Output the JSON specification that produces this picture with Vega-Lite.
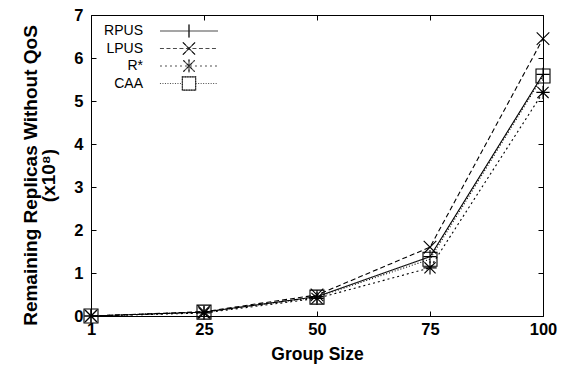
{
  "$schema": "https://vega.github.io/schema/vega-lite/v6.json",
  "width": 452,
  "height": 301,
  "autosize": {"type": "none"},
  "padding": {"left": 91, "top": 15, "right": 18, "bottom": 56},
  "background": "white",
  "config": {
    "view": {"stroke": "black", "strokeWidth": 1},
    "font": "Liberation Sans",
    "axis": {"grid": false, "domain": false, "tickColor": "black", "tickSize": -5, "tickWidth": 1,
             "labelFont": "Liberation Sans", "labelFontWeight": "bold", "labelFontSize": 16.5, "labelColor": "black",
             "titleFont": "Liberation Sans", "titleFontWeight": "bold", "titleColor": "black"}
  },
  "data": {"values": [
    {"g": "1", "s": "RPUS", "v": 0}, {"g": "25", "s": "RPUS", "v": 0.09}, {"g": "50", "s": "RPUS", "v": 0.45}, {"g": "75", "s": "RPUS", "v": 1.38}, {"g": "100", "s": "RPUS", "v": 5.62},
    {"g": "1", "s": "LPUS", "v": 0}, {"g": "25", "s": "LPUS", "v": 0.1}, {"g": "50", "s": "LPUS", "v": 0.49}, {"g": "75", "s": "LPUS", "v": 1.6}, {"g": "100", "s": "LPUS", "v": 6.45},
    {"g": "1", "s": "R*", "v": 0}, {"g": "25", "s": "R*", "v": 0.07}, {"g": "50", "s": "R*", "v": 0.41}, {"g": "75", "s": "R*", "v": 1.12}, {"g": "100", "s": "R*", "v": 5.2},
    {"g": "1", "s": "CAA", "v": 0}, {"g": "25", "s": "CAA", "v": 0.09}, {"g": "50", "s": "CAA", "v": 0.44}, {"g": "75", "s": "CAA", "v": 1.32}, {"g": "100", "s": "CAA", "v": 5.58}
  ]},
  "layer": [
    {
      "mark": {"type": "line", "color": "black", "strokeWidth": 1.1},
      "encoding": {
        "x": {"field": "g", "type": "ordinal", "sort": ["1", "25", "50", "75", "100"],
              "scale": {"type": "point", "padding": 0, "domain": ["1", "25", "50", "75", "100"]},
              "axis": {"orient": "bottom", "labelAngle": 0, "labelPadding": 10, "title": "Group Size", "titleFontSize": 17.5, "titlePadding": 8}},
        "y": {"field": "v", "type": "quantitative", "scale": {"domain": [0, 7], "nice": false},
              "axis": {"orient": "left", "values": [0, 1, 2, 3, 4, 5, 6, 7], "labelPadding": 13,
                       "title": ["Remaining Replicas Without QoS", "(x10⁸)"], "titleFontSize": 19, "titlePadding": 15, "titleLineHeight": 18, "titleY": 160}},
        "strokeDash": {"field": "s", "type": "nominal",
                       "scale": {"domain": ["RPUS", "LPUS", "R*", "CAA"], "range": [[1, 0], [5, 3], [2, 3], [1, 2]]},
                       "legend": null}
      }
    },
    {
      "mark": {"type": "point", "filled": false, "color": "black", "strokeWidth": 1.1, "size": 196, "opacity": 1},
      "encoding": {
        "x": {"field": "g", "type": "ordinal", "sort": ["1", "25", "50", "75", "100"],
              "scale": {"type": "point", "padding": 0, "domain": ["1", "25", "50", "75", "100"]},
              "axis": {"orient": "top", "labels": false, "title": null}},
        "y": {"field": "v", "type": "quantitative", "scale": {"domain": [0, 7], "nice": false},
              "axis": {"orient": "right", "values": [0, 1, 2, 3, 4, 5, 6, 7], "labels": false, "title": null}},
        "shape": {"field": "s", "type": "nominal",
                  "scale": {"domain": ["RPUS", "LPUS", "R*", "CAA"],
                            "range": ["M-0.95,0H0.95M0,-0.95V0.95", "M-0.9,-0.9L0.9,0.9M-0.9,0.9L0.9,-0.9", "M-0.95,0H0.95M0,-0.95V0.95M-0.8,-0.8L0.8,0.8M-0.8,0.8L0.8,-0.8", "M-1,-1H1V1H-1Z"]},
                  "legend": null}
      }
    },
    {
      "transform": [{"filter": "false"}],
      "mark": {"type": "point", "filled": false, "color": "black", "strokeWidth": 1.1, "size": 49},
      "encoding": {
        "shape": {"field": "s", "type": "nominal",
                  "scale": {"domain": ["RPUS", "LPUS", "R*", "CAA"],
                            "range": ["M-8.3,0H8.3M0,-1.85V1.85", "M-8.3,0H8.3M-1.75,-1.75L1.75,1.75M-1.75,1.75L1.75,-1.75", "M-8.3,0H8.3M0,-1.85V1.85M-1.6,-1.6L1.6,1.6M-1.6,1.6L1.6,-1.6", "M-8.3,0H-1.9M1.9,0H8.3M-1.9,-1.9H1.9V1.9H-1.9Z"]},
                  "legend": {"orient": "none", "legendX": 91, "legendY": 9, "title": null, "padding": 0,
                             "symbolSize": 49, "symbolStrokeColor": "black", "symbolStrokeWidth": 1.1, "symbolFillColor": "transparent",
                             "labelFont": "Liberation Sans", "labelFontSize": 14, "labelColor": "transparent", "labelExpr": "' '", "labelAlign": "right",
                             "labelOffset": -53, "rowPadding": -0.5}},
        "strokeDash": {"field": "s", "type": "nominal",
                       "scale": {"domain": ["RPUS", "LPUS", "R*", "CAA"], "range": [[1, 0], [4, 2.5], [2, 3], [1, 1.5]]},
                       "legend": {"orient": "none", "legendX": 91, "legendY": 9, "title": null, "padding": 0,
                                  "symbolSize": 49, "labelFontSize": 14, "labelColor": "transparent", "labelExpr": "' '", "labelAlign": "right", "labelOffset": -53, "rowPadding": -0.5}}
      }
    },
    {
      "transform": [{"filter": "false"}],
      "mark": {"type": "point", "filled": false, "color": "black", "strokeWidth": 1.1, "size": 49},
      "encoding": {
        "shape": {"field": "s", "type": "nominal",
                  "scale": {"domain": ["RPUS", "LPUS", "R*", "CAA"],
                            "range": ["M0,-1.85V1.85", "M-1.75,-1.75L1.75,1.75M-1.75,1.75L1.75,-1.75", "M0,-1.85V1.85M-1.6,-1.6L1.6,1.6M-1.6,1.6L1.6,-1.6", "M-1.9,-1.9H1.9V1.9H-1.9Z"]},
                  "legend": {"orient": "none", "legendX": 91, "legendY": 9, "title": null, "padding": 0,
                             "symbolSize": 49, "symbolStrokeColor": "black", "symbolStrokeWidth": 1.1, "symbolFillColor": "transparent",
                             "labelFont": "Liberation Sans", "labelFontSize": 14, "labelColor": "black", "labelAlign": "right",
                             "labelOffset": -53, "rowPadding": -0.5}}
      }
    }
  ],
  "resolve": {
    "scale": {"x": "independent", "y": "independent", "shape": "independent", "strokeDash": "independent"},
    "axis": {"x": "independent", "y": "independent"}
  }
}
